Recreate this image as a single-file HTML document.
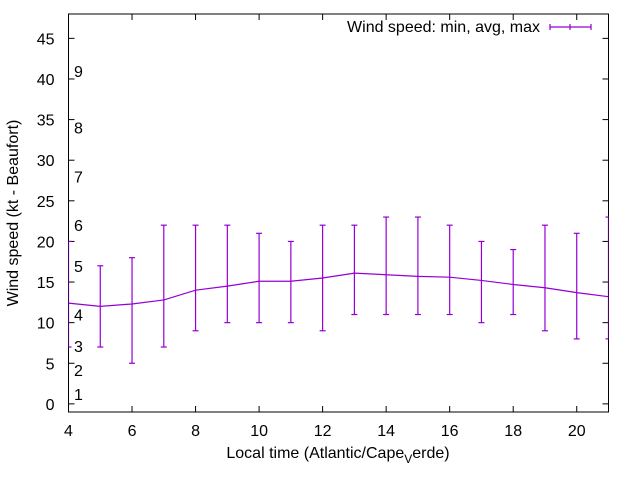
<!DOCTYPE html>
<html><head><meta charset="utf-8"><style>body{margin:0;background:#fff}svg{display:block;font-family:"Liberation Sans",sans-serif}</style></head>
<body>
<svg id="chart" width="640" height="480" viewBox="0 0 640 480"></svg>
<script>
const hours=[4,5,6,7,8,9,10,11,12,13,14,15,16,17,18,19,20,21];
const avgSpeed=[12.4,12,12.3,12.8,14,14.5,15.1,15.1,15.5,16.1,15.9,15.7,15.6,15.2,14.7,14.3,13.7,13.2];
const minSpeed=[7,7,5,7,9,10,10,10,9,11,11,11,11,10,11,9,8,8];
const maxSpeed=[20,17,18,22,22,22,21,20,22,22,23,23,22,20,19,22,21,23];
const xTicks=[4,6,8,10,12,14,16,18,20];
const yTicks=[0,5,10,15,20,25,30,35,40,45];
const beaufortLabels=["1","2","3","4","5","6","7","8","9"];
const beaufortPos=[1.2,4.2,7.1,11,17,22,28,34,41];
const L=68.5,R=608.5,T=14,B=412,xMin=4,xMax=21,yMin=-1,yMax=48;
const X=v=>L+(v-xMin)/(xMax-xMin)*(R-L);
const Y=v=>B-(v-yMin)/(yMax-yMin)*(B-T);
const svg=document.getElementById('chart');
const NS='http://www.w3.org/2000/svg';
function mk(tag,attrs,parent){const e=document.createElementNS(NS,tag);for(const k in attrs)e.setAttribute(k,attrs[k]);(parent||svg).appendChild(e);return e;}
const C='#9400d3';
const FS=16;
const frame=mk('rect',{x:L,y:T,width:R-L,height:B-T,fill:'none',stroke:'#000','stroke-width':1});


yTicks.forEach(v=>{
  const g=mk('g',{});
  
  
  mk('line',{x1:L,x2:L+6,y1:Y(v),y2:Y(v),stroke:'#000'},g);
  mk('line',{x1:R,x2:R-6,y1:Y(v),y2:Y(v),stroke:'#000'},g);
  const t=mk('text',{x:L-14,y:Y(v)+6,'text-anchor':'end','font-size':FS,fill:'#000'},g);t.textContent=v;
});
xTicks.forEach(v=>{
  const g=mk('g',{});
  
  
  mk('line',{x1:X(v),x2:X(v),y1:B,y2:B-6,stroke:'#000'},g);
  mk('line',{x1:X(v),x2:X(v),y1:T,y2:T+6,stroke:'#000'},g);
  const t=mk('text',{x:X(v),y:B+24,'text-anchor':'middle','font-size':FS,fill:'#000'},g);t.textContent=v;
});
beaufortLabels.forEach((s,i)=>{
  const t=mk('text',{x:74,y:Y(beaufortPos[i])+6,'text-anchor':'start','font-size':FS,fill:'#000'});
  
  
  t.textContent=s;
});
const cp=mk('clipPath',{id:'clip'});mk('rect',{x:L,y:T,width:R-L,height:B-T},cp);
hours.forEach((h,i)=>{
  const g=mk('g',{stroke:C,'stroke-width':1.2,'clip-path':'url(#clip)'});
  
  
  mk('line',{x1:X(h),x2:X(h),y1:Y(minSpeed[i]),y2:Y(maxSpeed[i])},g);
  mk('line',{x1:X(h)-3,x2:X(h)+3,y1:Y(minSpeed[i]),y2:Y(minSpeed[i])},g);
  mk('line',{x1:X(h)-3,x2:X(h)+3,y1:Y(maxSpeed[i]),y2:Y(maxSpeed[i])},g);
});
const line=mk('polyline',{points:hours.map((h,i)=>X(h)+','+Y(avgSpeed[i])).join(' '),fill:'none',stroke:C,'stroke-width':1.2});


const yl=mk('text',{x:0,y:0,transform:'translate(18,213) rotate(-90)','text-anchor':'middle','font-size':FS,fill:'#000'});


yl.textContent='Wind speed (kt - Beaufort)';
const xl=mk('text',{x:338,y:458,'text-anchor':'middle','font-size':FS,fill:'#000'});


xl.innerHTML='Local time (Atlantic/Cape<tspan dy="5" font-size="12">V</tspan><tspan dy="-5">erde)</tspan>';
const lg=mk('g',{});


const lt=mk('text',{x:540,y:32,'text-anchor':'end','font-size':FS,fill:'#000'},lg);lt.textContent='Wind speed: min, avg, max';
mk('line',{x1:550,x2:591,y1:27,y2:27,stroke:C,'stroke-width':1.2},lg);
[550,570,591].forEach(x=>mk('line',{x1:x,x2:x,y1:24,y2:30,stroke:C,'stroke-width':1.2},lg));
</script>
</body></html>
